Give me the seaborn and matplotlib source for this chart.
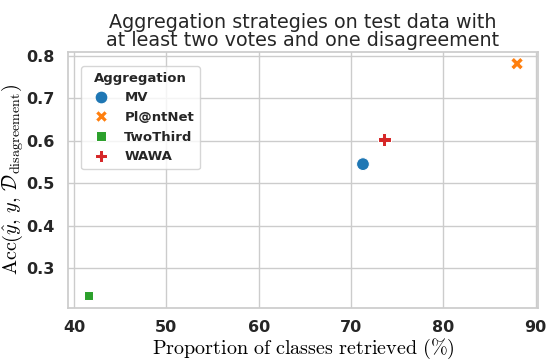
import pandas as pd
import seaborn as sns
import matplotlib
matplotlib.use("Agg")
import matplotlib.pyplot as plt

# values
strategies = ["MV", "Pl@ntNet", "TwoThird", "WAWA"]
prop_retrieved = [71.3, 88.0, 41.6, 73.6]
accuracy = [0.545, 0.782, 0.234, 0.603]

df = pd.DataFrame({"Aggregation": strategies,
                   "prop": prop_retrieved,
                   "acc": accuracy})

sns.set_theme(style="whitegrid")
plt.rcParams["mathtext.fontset"] = "cm"

fig, ax = plt.subplots(figsize=(5.58, 3.64), dpi=100)
sns.scatterplot(data=df, x="prop", y="acc", hue="Aggregation", style="Aggregation",
                palette="tab10", s=85, ax=ax)

ax.set_title("Aggregation strategies on test data with\nat least two votes and one disagreement",
             fontsize=13.8, color="#262626", pad=4, linespacing=0.95)
ax.set_xlabel(r"$\mathrm{Proportion\ of\ classes\ retrieved\ (\%)}$", fontsize=14.5,
              color="black", labelpad=1)
ax.set_ylabel(r"$\mathrm{Acc}\left(\hat{y},\, y,\, \mathcal{D}_{\mathrm{disagreement}}\right)$",
              fontsize=14.5, color="black")
ax.yaxis.set_label_coords(-0.089, 0.5)
ax.set_xticks([40, 50, 60, 70, 80, 90])
ax.set_yticks([0.3, 0.4, 0.5, 0.6, 0.7, 0.8])
for lab in ax.get_xticklabels() + ax.get_yticklabels():
    lab.set_fontweight("bold")
    lab.set_fontsize(11.5)
ax.tick_params(axis="both", pad=3)

leg = ax.legend(title="Aggregation", loc="upper left", fontsize=9.5, title_fontsize=9.5,
                borderpad=0.45, handletextpad=0.8, borderaxespad=1.05, labelspacing=0.5)
leg.get_title().set_fontweight("bold")
for t in leg.get_texts():
    t.set_fontweight("bold")

fig.subplots_adjust(left=0.121, right=0.965, top=0.857, bottom=0.155)
fig.savefig("out.png", dpi=100)
